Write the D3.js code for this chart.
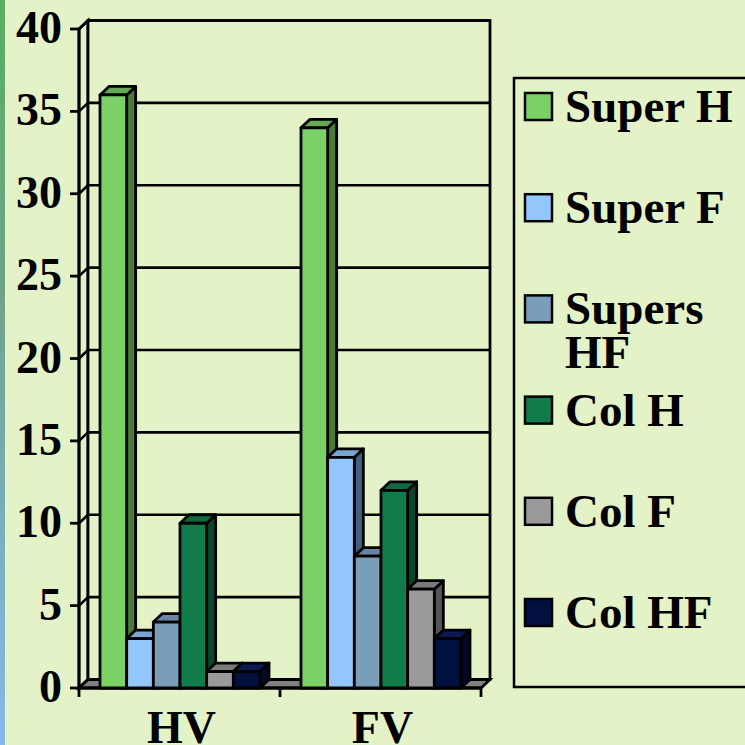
<!DOCTYPE html>
<html>
<head>
<meta charset="utf-8">
<script src="https://cdn.jsdelivr.net/npm/d3@7"></script>
<style>
  body { margin: 0; background: #e4f2c7; }
  svg { display: block; }
  text { font-family: "Liberation Serif", "Times New Roman", serif; font-weight: bold; fill: #000; }
</style>
</head>
<body>
<div id="chart"></div>
<script>
// data
const categories = ["HV", "FV"];
const seriesNames = ["Super H", "Super F", "Supers HF", "Col H", "Col F", "Col HF"];
const legendLabels = ["Super H", "Super F", "Supers\nHF", "Col H", "Col F", "Col HF"];
const superH = [36, 34];
const superF = [3, 14];
const supersHF = [4, 8];
const colH = [10, 12];
const colF = [1, 6];
const colHF = [1, 3];
const yTicks = [0, 5, 10, 15, 20, 25, 30, 35, 40];

const frontColors = ["#7bd166", "#93c6fa", "#7a9dba", "#127b4a", "#9a9a9a", "#00103f"];
const sideColors = ["#4b7a3a", "#44607f", "#3e546a", "#0c452a", "#555555", "#000a28"];
const topColors = ["#64a853", "#7aa4d2", "#6886a3", "#0f6a40", "#7a7a7a", "#0a1a55"];

const allValues = [superH, superF, supersHF, colH, colF, colHF];

const W = 745, H = 745;
const dx = 9, dy = 8.5; // 3d depth offset
const sw = 2.8;

const svg = d3.select("#chart").append("svg")
    .attr("width", W)
    .attr("height", H);

// left edge strip of the slide background
const defs = svg.append("defs");
const grad = defs.append("linearGradient").attr("id", "edge")
    .attr("x1", 0).attr("y1", 0).attr("x2", 0).attr("y2", 1);
grad.append("stop").attr("offset", "0%").attr("stop-color", "#5aae62");
grad.append("stop").attr("offset", "40%").attr("stop-color", "#6fa38a");
grad.append("stop").attr("offset", "100%").attr("stop-color", "#86b9ec");

svg.append("rect").attr("width", W).attr("height", H).attr("fill", "#e4f2c7");
svg.append("rect").attr("width", 5).attr("height", H).attr("fill", "url(#edge)");

// scales
const y = d3.scaleLinear().domain([0, 40]).range([688, 29]);
const x = d3.scaleBand().domain(categories).range([79, 481]);
const xSub = d3.scaleBand().domain(seriesNames).range([21, 181]);

const x0 = x.range()[0], x1 = x.range()[1];
const yTop = y(40), yBase = y(0);

const line = d3.line();

// walls
const walls = svg.append("g");
// left wall
walls.append("path")
    .attr("d", line([[x0, yBase], [x0, yTop], [x0 + dx, yTop - dy], [x0 + dx, yBase - dy]]) + "Z")
    .attr("fill", "#e4f2c7").attr("stroke", "#000").attr("stroke-width", sw);
// back wall
walls.append("rect")
    .attr("x", x0 + dx).attr("y", yTop - dy)
    .attr("width", x1 - x0).attr("height", yBase - yTop)
    .attr("fill", "#e4f2c7").attr("stroke", "#000").attr("stroke-width", sw);

// gridlines on back wall and left wall
yTicks.forEach(t => {
    walls.append("line")
        .attr("x1", x0 + dx).attr("x2", x1 + dx)
        .attr("y1", y(t) - dy).attr("y2", y(t) - dy)
        .attr("stroke", "#000").attr("stroke-width", 2.6);
    walls.append("line")
        .attr("x1", x0).attr("x2", x0 + dx)
        .attr("y1", y(t)).attr("y2", y(t) - dy)
        .attr("stroke", "#000").attr("stroke-width", 2.6);
});

// floor
walls.append("path")
    .attr("d", line([[x0, yBase], [x1, yBase], [x1 + dx, yBase - dy], [x0 + dx, yBase - dy]]) + "Z")
    .attr("fill", "#808080").attr("stroke", "#000").attr("stroke-width", sw);

// y axis ticks and labels
const axis = svg.append("g");
axis.append("line")
    .attr("x1", x0).attr("x2", x0).attr("y1", yTop).attr("y2", yBase)
    .attr("stroke", "#000").attr("stroke-width", sw);
yTicks.forEach(t => {
    axis.append("line")
        .attr("x1", x0 - 9).attr("x2", x0)
        .attr("y1", y(t)).attr("y2", y(t))
        .attr("stroke", "#000").attr("stroke-width", sw);
    axis.append("text")
        .attr("x", 62).attr("y", y(t) + 14)
        .attr("text-anchor", "end")
        .style("font-size", "46px")
        .text(t);
});

// x axis line, ticks and labels
axis.append("line")
    .attr("x1", x0).attr("x2", x1).attr("y1", yBase).attr("y2", yBase)
    .attr("stroke", "#000").attr("stroke-width", sw);
[x0, x(categories[1]), x1].forEach(px => {
    axis.append("line")
        .attr("x1", px).attr("x2", px).attr("y1", yBase).attr("y2", yBase + 9)
        .attr("stroke", "#000").attr("stroke-width", sw);
});
categories.forEach(c => {
    axis.append("text")
        .attr("x", x(c) + x.bandwidth() / 2 + 2)
        .attr("y", 743)
        .attr("text-anchor", "middle")
        .style("font-size", "46px")
        .text(c);
});

// bars, drawn left to right so each covers the side of the previous one
const bars = svg.append("g");
categories.forEach((c, ci) => {
    seriesNames.forEach((s, si) => {
        const v = allValues[si][ci];
        const bx = x(c) + xSub(s);
        const bw = xSub.bandwidth();
        const by = y(v);
        const g = bars.append("g")
            .attr("stroke", "#000").attr("stroke-width", sw).attr("stroke-linejoin", "round");
        g.append("path")
            .attr("d", line([[bx + bw, by], [bx + bw + dx, by - dy], [bx + bw + dx, yBase - dy], [bx + bw, yBase]]) + "Z")
            .attr("fill", sideColors[si]);
        g.append("path")
            .attr("d", line([[bx, by], [bx + dx, by - dy], [bx + bw + dx, by - dy], [bx + bw, by]]) + "Z")
            .attr("fill", topColors[si]);
        g.append("rect")
            .attr("x", bx).attr("y", by)
            .attr("width", bw).attr("height", yBase - by)
            .attr("fill", frontColors[si]);
    });
});

// legend
const legend = svg.append("g");
legend.append("rect")
    .attr("x", 514).attr("y", 78)
    .attr("width", 260).attr("height", 609)
    .attr("fill", "#e4f2c7").attr("stroke", "#000").attr("stroke-width", 2.5);

const legendY = d3.scalePoint().domain(seriesNames).range([106, 612]);
seriesNames.forEach((s, si) => {
    const cy = legendY(s);
    legend.append("rect")
        .attr("x", 525).attr("y", cy - 13)
        .attr("width", 27).attr("height", 27)
        .attr("fill", frontColors[si])
        .attr("stroke", "#000").attr("stroke-width", 2.5);
    const txt = legend.append("text")
        .attr("x", 565).attr("y", cy + 16)
        .style("font-size", "47px");
    legendLabels[si].split("\n").forEach((ln, li) => {
        txt.append("tspan")
            .attr("x", 565)
            .attr("dy", li === 0 ? 0 : 44)
            .text(ln);
    });
});
</script>
</body>
</html>
